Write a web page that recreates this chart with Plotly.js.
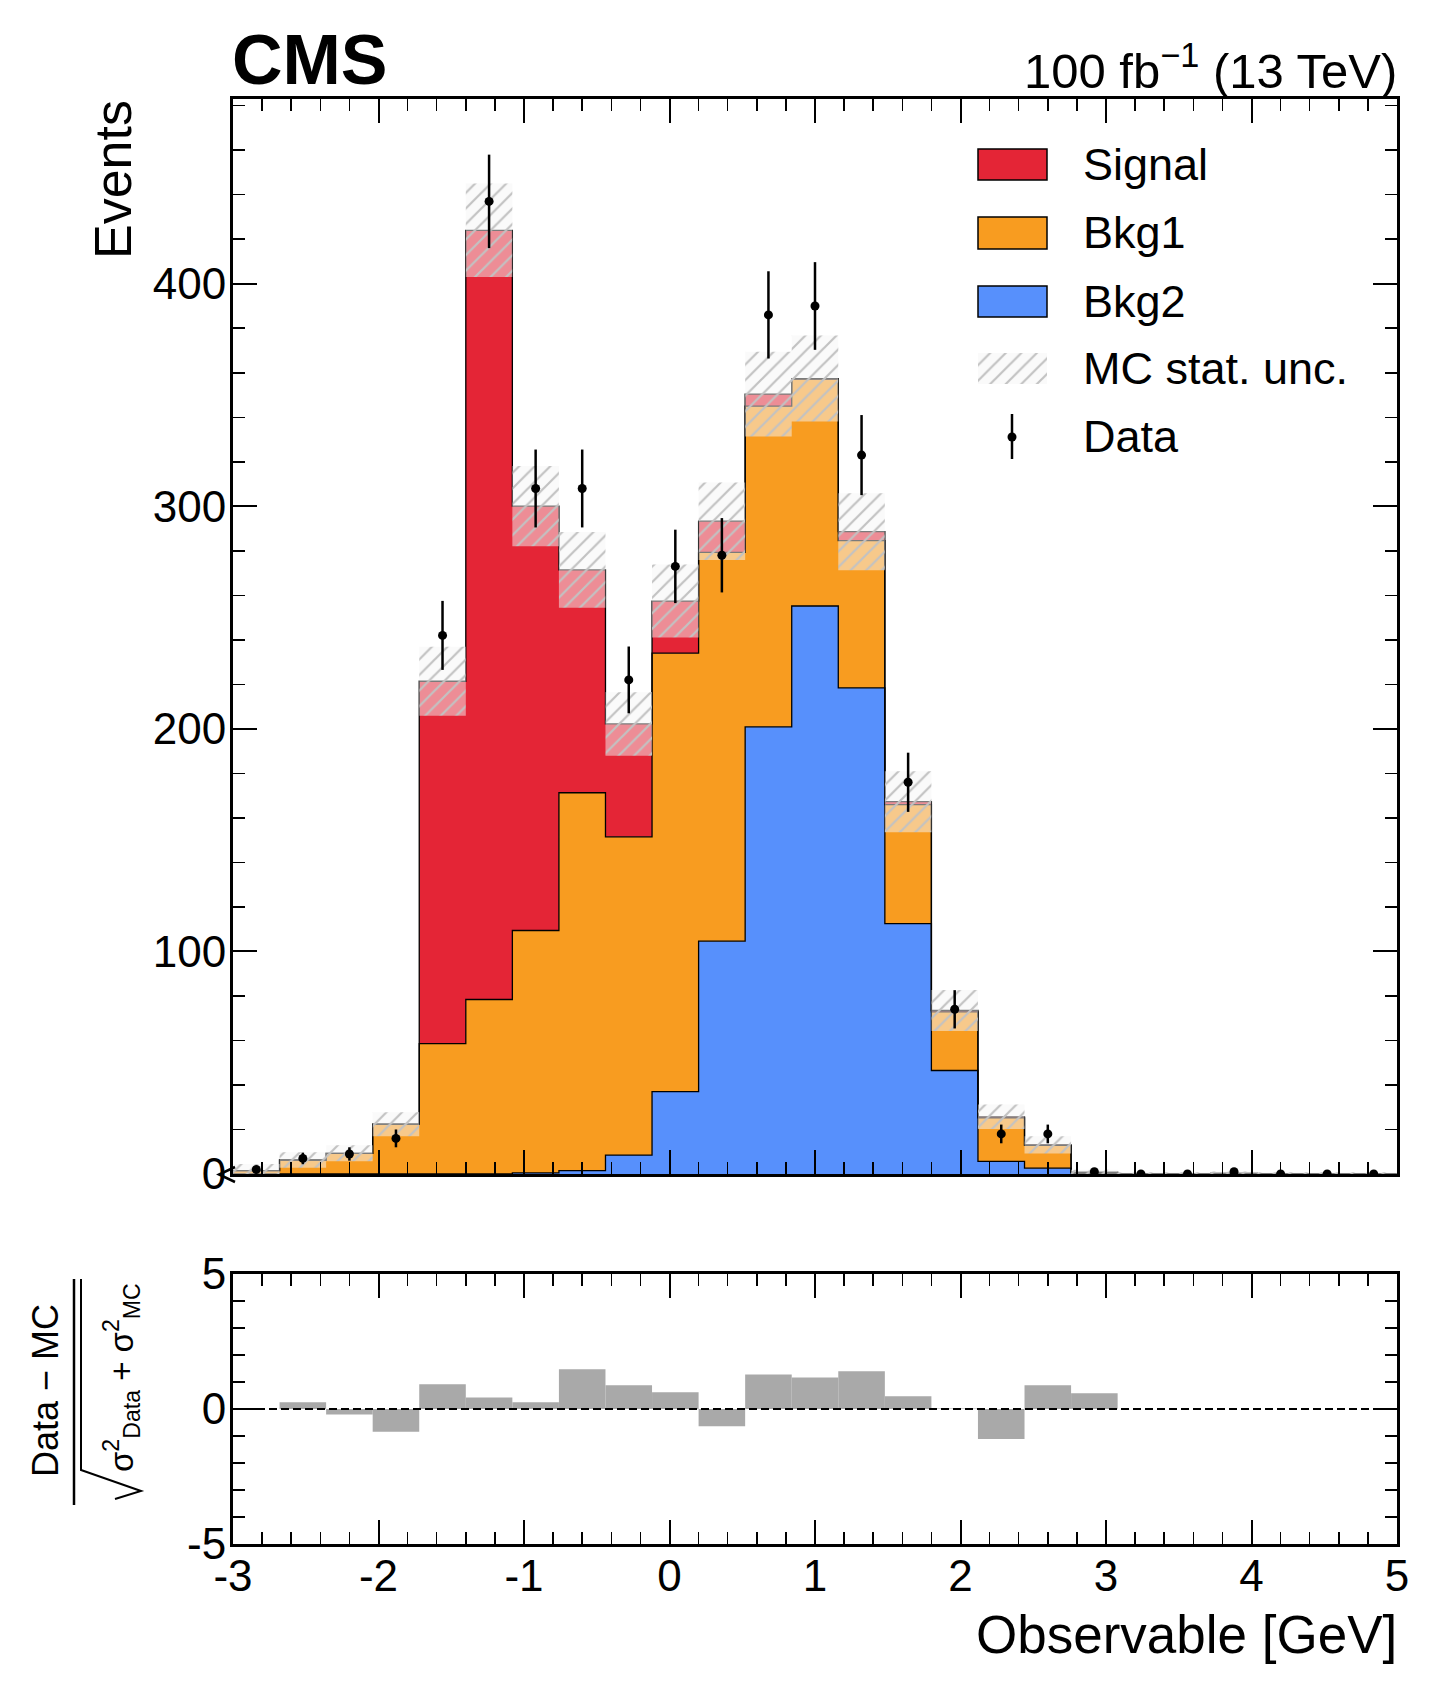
<!DOCTYPE html>
<html>
<head>
<meta charset="utf-8">
<script src="https://cdn.plot.ly/plotly-3.0.1.min.js"></script>
<style>
html, body { margin: 0; padding: 0; background: #fff; }
#chart { width: 1439px; height: 1694px; }
</style>
</head>
<body>
<div id="chart"></div>
<script>
// binning of the observable [GeV]
var edges = [-3, -2.68, -2.36, -2.04, -1.72, -1.4, -1.08, -0.76, -0.44, -0.12, 0.2, 0.52, 0.84,
             1.16, 1.48, 1.8, 2.12, 2.44, 2.76, 3.08, 3.4, 3.72, 4.04, 4.36, 4.68, 5];

// stacked MC, bottom to top
var bkg2   = [0, 0, 0, 0, 0, 0, 0.5, 1.5, 8.5, 37, 104.6, 200.9, 255.2, 218.4, 112.5, 46.5, 5.7, 2.6, 0.2, 0, 0, 0, 0, 0, 0];
var bkg1   = [1.5, 6.3, 9.3, 22.4, 58.6, 78.4, 108.9, 169.8, 143, 197, 174.7, 144.1, 101.9, 66.2, 53.5, 26.3, 19.5, 10.3, 0.5, 0.2, 0.2, 0.3, 0.2, 0.2, 0.2];
var signal = [0, 0, 0, 0, 162.8, 345.6, 190.7, 100.1, 50.7, 23.4, 14, 5.4, 0.3, 4, 1.3, 0.7, 0.5, 0.2, 0, 0, 0, 0, 0, 0, 0];
var mcUnc  = [3, 3.5, 3.6, 5.4, 15.5, 21, 18, 17, 14.3, 16.4, 17.4, 19, 19.3, 17.3, 13.7, 9.2, 5.5, 3.9, 1.2, 0.6, 0.6, 0.8, 0.6, 0.6, 0.6];

var data    = [2, 7, 9, 16, 242, 437, 308, 308, 222, 273, 278, 386, 390, 323, 176, 74, 18, 18, 1, 0, 0, 1, 0, 0, 0];
var dataErr = [1.4, 2.6, 3, 4, 15.5, 21, 17.5, 17.5, 15, 16.5, 16.7, 19.6, 19.7, 18, 13.3, 8.6, 4.2, 4.2, 1, 0, 0, 1, 0, 0, 0];

// (Data - MC) / sqrt(sigma_data^2 + sigma_MC^2)
var pull = [0, 0.25, -0.2, -0.84, 0.92, 0.43, 0.25, 1.47, 0.88, 0.62, -0.64, 1.28, 1.17, 1.40, 0.47, 0.02, -1.11, 0.88, 0.58, 0, 0, 0, 0, 0, 0];

var xTicks = [-3, -2, -1, 0, 1, 2, 3, 4, 5];
var xTickText = ['-3', '-2', '-1', '0', '1', '2', '3', '4', '5'];
var yTicks = [0, 100, 200, 300, 400];
var yTickText = ['0', '100', '200', '300', '400'];
var pullTicks = [-5, 0, 5];
var pullTickText = ['-5', '0', '5'];

var legendNames = ['Signal', 'Bkg1', 'Bkg2', 'MC stat. unc.', 'Data'];
var colors = { signal: '#e42536', bkg1: '#f89c20', bkg2: '#5790fc', pull: '#a9a9a9' };

var FONT = 'Liberation Sans, Arial, Helvetica, sans-serif';
var W = 1439, H = 1694;
var YMAX = 483;
function px(x) { return x / W; }
function py(y) { return 1 - y / H; }
// pixel -> main panel data coords (panel spans x 233..1397, y 99..1174)
function dx(x) { return -3 + (x - 233) * 8 / 1164; }
function dy(y) { return (1174 - y) * YMAX / 1075; }

var nb = edges.length - 1;
var centers = [], s1 = [], s2 = [], s3 = [], lo = [], hi = [];
for (var i = 0; i < nb; i++) {
    centers.push((edges[i] + edges[i + 1]) / 2);
    s1.push(bkg2[i]);
    s2.push(bkg2[i] + bkg1[i]);
    s3.push(bkg2[i] + bkg1[i] + signal[i]);
    lo.push(Math.max(0, s3[i] - mcUnc[i]));
    hi.push(s3[i] + mcUnc[i]);
}

function steps(vals, closed) {
    var x = [], y = [];
    if (closed) { x.push(edges[0]); y.push(0); }
    for (var i = 0; i < nb; i++) { x.push(edges[i]); y.push(vals[i]); }
    x.push(edges[nb]); y.push(vals[nb - 1]);
    if (closed) { x.push(edges[nb]); y.push(0); }
    return { x: x, y: y };
}

var hatch = { shape: '/', fgcolor: '#c2c2c2', bgcolor: 'rgba(245,245,245,0.5)', size: 11, solidity: 0.2 };

function stackTrace(vals, color, fill) {
    var st = steps(vals, true);
    return {
        x: st.x, y: st.y, type: 'scatter', mode: 'lines',
        line: { shape: 'hv', color: 'black', width: 1.3 },
        fill: fill, fillcolor: color, hoverinfo: 'skip'
    };
}

var bandLo = steps(lo, false), bandHi = steps(hi, false);

var traces = [
    stackTrace(s1, colors.bkg2, 'tozeroy'),
    stackTrace(s2, colors.bkg1, 'tonexty'),
    stackTrace(s3, colors.signal, 'tonexty'),
    {
        x: bandLo.x, y: bandLo.y, type: 'scatter', mode: 'lines',
        line: { shape: 'hv', width: 0, color: 'rgba(0,0,0,0)' }, hoverinfo: 'skip'
    },
    {
        x: bandHi.x, y: bandHi.y, type: 'scatter', mode: 'lines',
        line: { shape: 'hv', width: 0, color: 'rgba(0,0,0,0)' },
        fill: 'tonexty', fillcolor: 'rgba(245,245,245,0.5)', fillpattern: hatch, hoverinfo: 'skip'
    },
    // hatched legend key
    {
        x: [dx(978), dx(1047), dx(1047), dx(978), dx(978)],
        y: [dy(353), dy(353), dy(384), dy(384), dy(353)],
        type: 'scatter', mode: 'lines', line: { width: 0, color: 'rgba(0,0,0,0)' },
        fill: 'toself', fillcolor: 'rgba(245,245,245,0.5)', fillpattern: hatch, hoverinfo: 'skip'
    },
    {
        x: centers, y: data, type: 'scatter', mode: 'markers', name: 'Data',
        marker: { color: 'black', size: 9 },
        error_y: { type: 'data', array: dataErr, visible: true, color: 'black', thickness: 2.5, width: 0 }
    },
    {
        x: centers, y: pull, type: 'bar', width: 0.32, xaxis: 'x2', yaxis: 'y2',
        marker: { color: colors.pull, line: { width: 0 } }, hoverinfo: 'skip'
    }
];

var minorTick = { ticks: 'inside', ticklen: 12, tickwidth: 1.5, tickcolor: 'black' };
function axis(extra) {
    return Object.assign({
        showline: true, linewidth: 3, linecolor: 'black', mirror: 'ticks',
        ticks: 'inside', ticklen: 24, tickwidth: 2, tickcolor: 'black',
        showgrid: false, zeroline: false, fixedrange: true, tickmode: 'array',
        tickfont: { size: 44, family: FONT, color: 'black' }
    }, extra);
}

var xDomain = [px(233), px(1397)];

function ann(text, x, y, opts) {
    return Object.assign({
        text: text, x: px(x), y: py(y), xref: 'paper', yref: 'paper',
        showarrow: false, font: { family: FONT, size: 44, color: 'black' }
    }, opts);
}

var legendY = [164.5, 233, 301.5, 368.5, 437];
var annotations = [
    ann('<b>CMS</b>', 230, 60, { xanchor: 'left', yanchor: 'middle', font: { family: FONT, size: 70, color: 'black' } }),
    ann('100 fb<sup>\u22121</sup> (13 TeV)', 1399, 67, { xanchor: 'right', yanchor: 'middle', font: { family: FONT, size: 49, color: 'black' } }),
    ann('Events', 113, 180, { textangle: -90, xanchor: 'center', yanchor: 'middle', font: { family: FONT, size: 52, color: 'black' } }),
    ann('Observable [GeV]', 1399, 1634, { xanchor: 'right', yanchor: 'middle', font: { family: FONT, size: 53, color: 'black' } }),
    ann('Data \u2212 MC', 45, 1391, { textangle: -90, xanchor: 'center', yanchor: 'middle', font: { family: FONT, size: 36, color: 'black' } }),
    ann('\u03c3<sup>2</sup><sub>Data</sub> + \u03c3<sup>2</sup><sub>MC</sub>', 121, 1378,
        { textangle: -90, xanchor: 'center', yanchor: 'middle', font: { family: FONT, size: 33, color: 'black' } })
];
for (var k = 0; k < legendNames.length; k++) {
    annotations.push(ann(legendNames[k], 1081, legendY[k], { xanchor: 'left', yanchor: 'middle', font: { family: FONT, size: 45, color: 'black' } }));
}

function rect(x0, y0, x1, y1, fill) {
    return { type: 'rect', xref: 'paper', yref: 'paper', x0: px(x0), x1: px(x1), y0: py(y0), y1: py(y1),
             fillcolor: fill, line: { color: 'black', width: 1.5 } };
}
function path(pts, width) {
    var d = pts.map(function (p, j) { return (j ? 'L' : 'M') + px(p[0]) + ',' + py(p[1]); }).join(' ');
    return { type: 'path', xref: 'paper', yref: 'paper', path: d, line: { color: 'black', width: width } };
}

var shapes = [
    rect(978, 149, 1047, 180, colors.signal),
    rect(978, 217, 1047, 249, colors.bkg1),
    rect(978, 286, 1047, 317, colors.bkg2),
    path([[1012, 414], [1012, 459]], 2.5),
    { type: 'circle', xref: 'paper', yref: 'paper', x0: px(1007.5), x1: px(1016.5), y0: py(432.5), y1: py(441.5),
      fillcolor: 'black', line: { width: 0 } },
    { type: 'line', xref: 'x2', yref: 'y2', x0: -3, x1: 5, y0: 0, y1: 0,
      line: { color: 'black', width: 2, dash: '8px,4px' } },
    path([[74, 1279], [74, 1505]], 2.5),
    path([[81, 1279], [81, 1470], [141, 1491], [115, 1499]], 2),
    path([[235, 1167], [219, 1174.5], [235, 1182]], 2.5)
];

var layout = {
    width: W, height: H,
    margin: { l: 0, r: 0, t: 0, b: 0 },
    paper_bgcolor: 'white', plot_bgcolor: 'rgba(0,0,0,0)',
    font: { family: FONT, color: 'black', size: 44 },
    showlegend: false,
    xaxis: axis({
        domain: xDomain, range: [-3, 5], anchor: 'y', tickvals: xTicks, showticklabels: false,
        minor: Object.assign({ tickmode: 'linear', tick0: -3, dtick: 0.2 }, minorTick)
    }),
    yaxis: axis({
        domain: [py(1174), py(99)], range: [0, YMAX], anchor: 'x',
        tickvals: yTicks, ticktext: yTickText, ticklabelstandoff: -5,
        minor: Object.assign({ tickmode: 'linear', tick0: 0, dtick: 20 }, minorTick)
    }),
    xaxis2: axis({
        domain: xDomain, range: [-3, 5], anchor: 'y2', tickvals: xTicks, ticktext: xTickText,
        ticklabelstandoff: -9,
        minor: Object.assign({ tickmode: 'linear', tick0: -3, dtick: 0.2 }, minorTick)
    }),
    yaxis2: axis({
        domain: [py(1544), py(1274)], range: [-5, 5], anchor: 'x2',
        tickvals: pullTicks, ticktext: pullTickText, ticklabelstandoff: -5,
        minor: Object.assign({ tickmode: 'linear', tick0: -5, dtick: 1 }, minorTick)
    }),
    annotations: annotations,
    shapes: shapes
};

Plotly.newPlot('chart', traces, layout, { staticPlot: true });
</script>
</body>
</html>
